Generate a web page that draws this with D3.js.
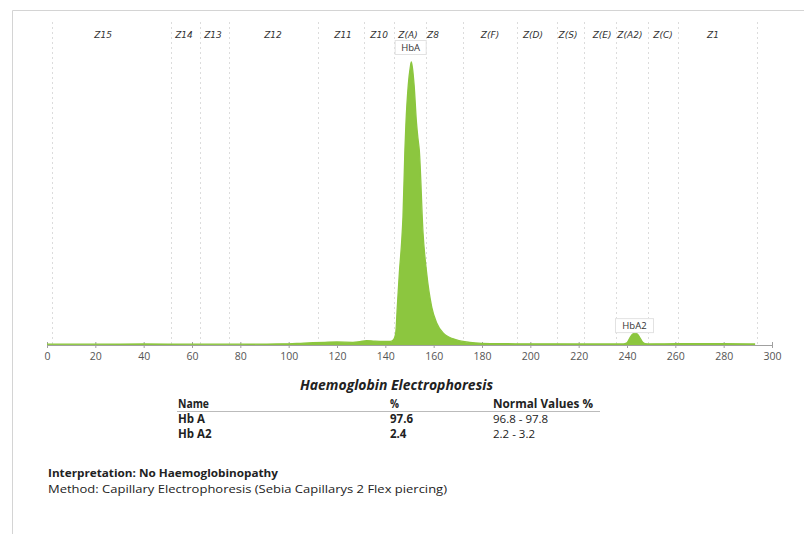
<!DOCTYPE html>
<html><head><meta charset="utf-8">
<script src="https://cdn.jsdelivr.net/npm/d3@7"></script>
<style>body{margin:0;background:#fff;} svg{display:block;}</style>
</head><body>
<svg id="chart" width="804" height="534"></svg>
<script>
// ---- data ----
const mobility   = [0, 20, 40, 60, 80, 95, 100, 105, 110, 115, 120, 126.6, 129.5, 132.3, 135, 137.8, 142, 143.3, 144.3, 144.95, 145.8, 146.8, 147.3, 148.1, 148.5, 149.5, 150.3, 150.75, 151.2, 151.9, 152.9, 153.5, 154.05, 155.6, 157.1, 159.2, 161.25, 164.0, 169.5, 175.0, 180, 190, 200, 220, 235, 238.5, 240, 241, 242, 243.2, 244.3, 245.3, 246.3, 247.5, 249, 255, 260, 270, 280, 293];
const absorbance = [0.3, 0.3, 0.35, 0.3, 0.3, 0.35, 0.4, 0.6, 0.8, 0.95, 1.06, 0.95, 1.2, 1.5, 1.4, 1.3, 1.24, 1.8, 4.2, 13.4, 25.4, 37.1, 45.2, 68.9, 77.7, 91.9, 98, 100, 98, 91.9, 78.4, 73, 68.9, 39.6, 25.4, 13.4, 7.8, 4.2, 1.8, 0.9, 0.6, 0.45, 0.4, 0.35, 0.35, 0.35, 0.8, 2.2, 3.6, 4.2, 3.9, 2.6, 1.2, 0.5, 0.35, 0.4, 0.45, 0.5, 0.45, 0.35];
const xTickValues = [0, 20, 40, 60, 80, 100, 120, 140, 160, 180, 200, 220, 240, 260, 280, 300];
const zoneBoundaries = [2.1, 51.3, 63.3, 75.3, 112.1, 131.2, 143.6, 156.8, 172.1, 194.5, 211.0, 222.2, 235.4, 248.7, 261.1, 293.8];
const zoneNames   = ["Z15", "Z14", "Z13", "Z12", "Z11", "Z10", "Z(A)", "Z8", "Z(F)", "Z(D)", "Z(S)", "Z(E)", "Z(A2)", "Z(C)", "Z1"];
const zoneCenters = [23.2, 56.7, 68.7, 93.5, 122.5, 137.4, 149.4, 159.7, 183.3, 201.1, 215.6, 229.7, 241.2, 254.9, 275.6];
const peakNames = ["HbA", "HbA2"];
const peakPositions = [150.7, 243.3];
const peakHeights = [100, 4.2];
const tableTitle = "Haemoglobin Electrophoresis";
const tableHeader = ["Name", "%", "Normal Values %"];
const tableNames = ["Hb A", "Hb A2"];
const tablePercent = ["97.6", "2.4"];
const tableNormal = ["96.8 - 97.8", "2.2 - 3.2"];
const interpretation = "Interpretation: No Haemoglobinopathy";
const method = "Method: Capillary Electrophoresis (Sebia Capillarys 2 Flex piercing)";

// ---- drawing ----
const svg = d3.select("#chart");
const W = 804, H = 534;
const x = d3.scaleLinear().domain([0, 300]).range([47, 772]);
const y = d3.scaleLinear().domain([0, 100]).range([345, 62]);
const green = "#8cc63f";
const font = "'Open Sans', 'DejaVu Sans', sans-serif";

svg.append("rect").attr("width", W).attr("height", H).attr("fill", "#fff");
// frame
svg.append("path").attr("d", `M12.5,${H} V10.5 H${W}`).attr("fill", "none").attr("stroke", "#d4d4d4").attr("stroke-width", 1);

// zone boundaries
svg.append("g").selectAll("line").data(zoneBoundaries).join("line")
  .attr("x1", d => Math.round(x(d)) + 0.5).attr("x2", d => Math.round(x(d)) + 0.5)
  .attr("y1", 22).attr("y2", y(0))
  .attr("stroke", "#dcdcdc").attr("stroke-dasharray", "2,3").attr("stroke-width", 1);

// zone labels
svg.append("g").selectAll("text").data(zoneNames).join("text")
  .attr("x", (d, i) => x(zoneCenters[i])).attr("y", 38)
  .attr("text-anchor", "middle")
  .attr("font-family", "'DejaVu Sans', sans-serif").attr("font-size", 9).attr("font-style", "italic")
  .attr("fill", "#333").text(d => d);

// axis
const axis = d3.axisBottom(x).tickValues(xTickValues).tickSizeInner(3).tickSizeOuter(0).tickPadding(5);
const gx = svg.append("g").attr("transform", `translate(0,${y(0)})`).call(axis);
gx.select(".domain").attr("stroke", "#a0a0a0");
gx.selectAll(".tick line").attr("y1", -3).attr("y2", 3).attr("stroke", "#a0a0a0");
gx.selectAll(".tick text").attr("font-family", font).attr("font-size", 10.5).attr("fill", "#555");

// curve
const pts = mobility.map((m, i) => [m, absorbance[i]]);
const area = d3.area().x(d => x(d[0])).y0(y(0)).y1(d => y(d[1])).curve(d3.curveMonotoneX);
const line = d3.line().x(d => x(d[0])).y(d => y(d[1])).curve(d3.curveMonotoneX);
svg.append("path").datum(pts).attr("d", area).attr("fill", green);
svg.append("path").datum(pts).attr("d", line).attr("fill", "none").attr("stroke", green).attr("stroke-width", 1.3);

// peak labels
const pl = svg.append("g").selectAll("g").data(peakNames).join("g")
  .attr("transform", (d, i) => `translate(${x(peakPositions[i]) - 0.5},${i === 0 ? 47.5 : y(peakHeights[i]) - 7.5})`);
pl.append("rect").attr("x", d => -(d.length * 3.5 + 5)).attr("y", -7)
  .attr("width", d => d.length * 7 + 10).attr("height", 14)
  .attr("fill", "#fff").attr("stroke", "#e2e2e2");
pl.append("text").attr("text-anchor", "middle").attr("y", 3.5)
  .attr("font-family", font).attr("font-size", 9.5).attr("fill", "#333").text(d => d);

// helper: fit text to a measured width from the reference
function fit(sel, w) { sel.attr("textLength", w).attr("lengthAdjust", "spacingAndGlyphs"); return sel; }

// table
fit(svg.append("text").attr("x", 300).attr("y", 390)
  .attr("font-family", font).attr("font-size", 14).attr("font-weight", "bold").attr("font-style", "italic")
  .attr("fill", "#222").text(tableTitle), 193);
const colX = [178, 390, 493];
const colW = [31, 9, 100];
svg.append("g").selectAll("text").data(tableHeader).join("text")
  .attr("x", (d, i) => colX[i]).attr("y", 408)
  .attr("font-family", font).attr("font-size", 11.5).attr("font-weight", "bold").attr("fill", "#222")
  .attr("textLength", (d, i) => colW[i]).attr("lengthAdjust", "spacingAndGlyphs")
  .text(d => d);
svg.append("line").attr("x1", 177).attr("x2", 600).attr("y1", 411.5).attr("y2", 411.5).attr("stroke", "#bbb");
const rows = svg.append("g").selectAll("g").data(tableNames).join("g")
  .attr("transform", (d, i) => `translate(0,${423 + i * 15})`);
rows.append("text").attr("x", colX[0]).attr("font-family", font).attr("font-size", 11.5).attr("font-weight", "bold").attr("fill", "#222").text(d => d);
rows.append("text").attr("x", colX[1]).attr("font-family", font).attr("font-size", 11.5).attr("font-weight", "bold").attr("fill", "#222").text((d, i) => tablePercent[i]);
rows.append("text").attr("x", colX[2]).attr("font-family", font).attr("font-size", 11.5).attr("fill", "#222").text((d, i) => tableNormal[i]);

fit(svg.append("text").attr("x", 48).attr("y", 477).attr("font-family", font).attr("font-size", 10.5)
  .attr("font-weight", "bold").attr("fill", "#222").text(interpretation), 230);
fit(svg.append("text").attr("x", 48).attr("y", 493).attr("font-family", font).attr("font-size", 11.5)
  .attr("fill", "#222").text(method), 399);
</script>
</body></html>
